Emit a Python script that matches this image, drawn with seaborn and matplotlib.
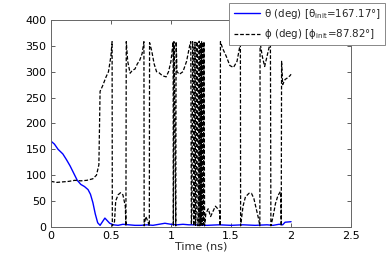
import matplotlib
matplotlib.use("Agg")
import matplotlib.pyplot as plt
import seaborn as sns
import pandas as pd

theta_t = [0.00, 0.03, 0.06, 0.10, 0.13, 0.16, 0.19, 0.22, 0.25, 0.28, 0.31, 0.33, 0.35, 0.37,
           0.39, 0.41, 0.43, 0.45, 0.47, 0.49, 0.52, 0.56, 0.60, 0.65, 0.70, 0.75, 0.80, 0.85,
           0.90, 0.95, 1.00, 1.05, 1.10, 1.15, 1.20, 1.30, 1.40, 1.50, 1.60, 1.70, 1.80, 1.85,
           1.90, 1.93, 1.95, 2.00]
theta_v = [166, 160, 150, 141, 130, 118, 104, 90, 82, 78, 72, 63, 47, 25,
           8, 3, 10, 17, 12, 7, 4, 3, 5, 4, 3, 3, 4, 3,
           5, 7, 5, 4, 5, 4, 4, 3, 4, 3, 4, 3, 4, 3,
           5, 4, 9, 10]

phi_t = [0.00, 0.05, 0.10, 0.15, 0.20, 0.25, 0.30, 0.35, 0.38, 0.40, 0.41, 0.43, 0.46, 0.48,
         0.50, 0.51, 0.512, 0.53, 0.54, 0.56, 0.58, 0.60, 0.62, 0.625, 0.628, 0.64, 0.66, 0.68,
         0.70, 0.72, 0.74, 0.76, 0.775, 0.777, 0.79, 0.80, 0.82, 0.822, 0.84, 0.86, 0.88, 0.90,
         0.93, 0.96, 0.98, 1.00, 1.018, 1.020, 1.025, 1.028, 1.040, 1.043, 1.048, 1.05, 1.07,
         1.10, 1.13, 1.16, 1.165, 1.17, 1.175, 1.18, 1.185, 1.19, 1.195, 1.20, 1.205, 1.21,
         1.215, 1.22, 1.225, 1.23, 1.235, 1.24, 1.245, 1.25, 1.255, 1.26, 1.265, 1.27, 1.275,
         1.28, 1.29, 1.31, 1.33, 1.35, 1.37, 1.39, 1.405, 1.41, 1.412, 1.43, 1.46, 1.49, 1.52,
         1.55, 1.57, 1.578, 1.58, 1.60, 1.62, 1.65, 1.67, 1.69, 1.71, 1.73, 1.74, 1.742, 1.76,
         1.78, 1.80, 1.82, 1.828, 1.832, 1.85, 1.87, 1.89, 1.91, 1.915, 1.918, 1.921, 1.93,
         1.95, 1.97, 1.99, 2.00]
phi_v = [88, 86, 87, 88, 90, 89, 90, 93, 100, 120, 262, 272, 290, 300,
         330, 358, 2, 10, 50, 62, 66, 62, 40, 2, 358, 320, 297, 303,
         305, 315, 322, 335, 358, 2, 20, 15, 2, 356, 340, 315, 300, 298,
         292, 290, 300, 320, 358, 2, 358, 330, 2, 358, 320, 300, 295,
         300, 320, 355, 358, 5, 30, 358, 345, 2, 28, 357, 3, 30,
         358, 350, 2, 25, 359, 2, 356, 4, 358, 3, 357, 5, 358,
         2, 25, 35, 20, 30, 40, 35, 30, 2, 358, 345, 330, 312, 308,
         320, 345, 358, 2, 40, 58, 65, 65, 55, 35, 15, 2, 357, 330,
         310, 330, 350, 358, 2, 20, 45, 60, 68, 65, 2, 320, 275,
         285, 288, 292, 295]

xticks = [0, 0.5, 1, 1.5, 2, 2.5]
xticklabels = ["0", "0.5", "1", "1.5", "2", "2.5"]
yticks = [0, 50, 100, 150, 200, 250, 300, 350, 400]

theta_label = r"θ (deg) [θ$_{\rm init}$=167.17°]"
phi_label = r"ϕ (deg) [ϕ$_{\rm init}$=87.82°]"

sns.set_theme(style="white")
plt.rcParams["font.family"] = ["DejaVu Sans"]
plt.rcParams["mathtext.fontset"] = "dejavusans"

fig = plt.figure(figsize=(3.88, 2.59), dpi=100)
ax = fig.add_axes([0.131, 0.124, 0.774, 0.799])

df_theta = pd.DataFrame({"t": theta_t, "v": theta_v})
df_phi = pd.DataFrame({"t": phi_t, "v": phi_v})

sns.lineplot(data=df_theta, x="t", y="v", ax=ax, color="#0000ff", lw=1.0,
             estimator=None, sort=False, label=theta_label, legend=False)
sns.lineplot(data=df_phi, x="t", y="v", ax=ax, color="black", lw=0.9,
             estimator=None, sort=False, label=phi_label, legend=False,
             linestyle=(0, (3, 1.5)))

ax.set_xlim(0, 2.5)
ax.set_ylim(0, 400)
ax.set_xticks(xticks)
ax.set_xticklabels(xticklabels)
ax.set_yticks(yticks)
ax.set_xlabel("Time (ns)", fontsize=8, labelpad=0)
ax.set_ylabel("")
ax.tick_params(direction="in", length=3, width=0.6, labelsize=8, top=True, right=True,
               bottom=True, left=True, colors="#444444", labelcolor="black", pad=3)
for s in ax.spines.values():
    s.set_color("#666666")
    s.set_linewidth(0.7)

h, l = ax.get_legend_handles_labels()
leg = fig.legend(h, l, loc="upper right", bbox_to_anchor=(0.992, 0.99), fontsize=7.4,
                 frameon=True, fancybox=False, edgecolor="#888888", framealpha=1,
                 borderpad=0.4, handlelength=2.6, labelspacing=0.65, handletextpad=0.35,
                 borderaxespad=0)
leg.get_frame().set_linewidth(0.7)

fig.savefig("out.png", dpi=100)
